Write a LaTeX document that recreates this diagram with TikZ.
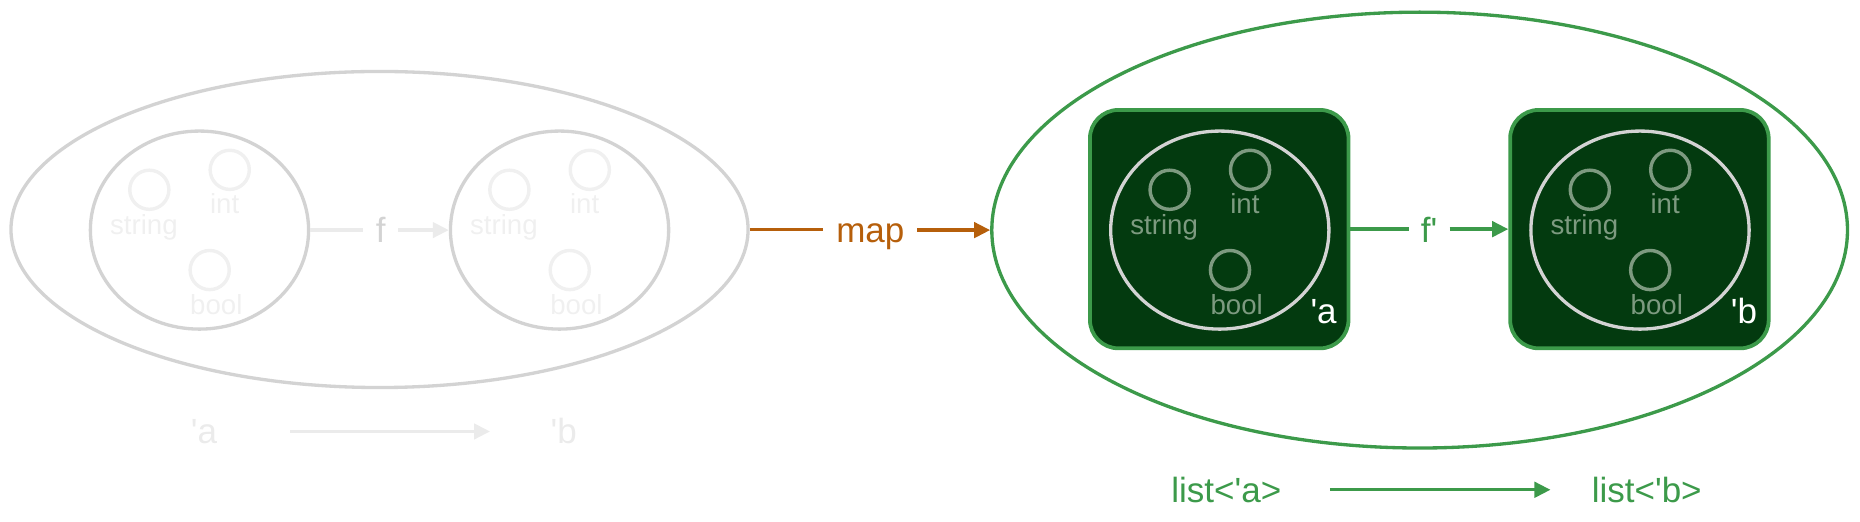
\documentclass[tikz,border=0pt]{standalone}
\usepackage{fontspec}
\newfontfamily\gvfont{Liberation Sans}
\usetikzlibrary{shapes.geometric,arrows.meta}
\definecolor{faint}{HTML}{F0F0F0}
\definecolor{pale}{HTML}{EBEBEB}
\definecolor{shade}{HTML}{D3D3D3}
\definecolor{mapcol}{HTML}{B65F0B}
\definecolor{leaf}{HTML}{3C9A4A}
\definecolor{forest}{HTML}{033A0F}
\definecolor{moss}{HTML}{7D9A80}
\newcommand{\fsmain}{\gvfont\fontsize{29.5}{30}\selectfont}
\newcommand{\fssmall}{\gvfont\fontsize{23.3}{24}\selectfont}
\newcommand{\typeballs}[4]{%
    \node[ball, draw = #4] (#1s) at (#2-42.3,#3-34) {};
    \node[ball, draw = #4] (#1i) at (#2+25.5,#3-50.8) {};
    \node[ball, draw = #4] (#1b) at (#2+8.6,#3+33.7) {};
    \node[tag, text = #4] (#1st) at (#2-46.9,#3+4) {string};
    \node[tag, text = #4] (#1it) at (#2+21.2,#3-13.6) {int};
    \node[tag, text = #4] (#1bt) at (#2+14.2,#3+70.8) {bool};
}
\begin{document}
\begin{tikzpicture}[x = 1pt, y = -1pt, line width = 2.8pt,
        every node/.style = {inner sep = 0pt, font = \fsmain},
        pod/.style = {ellipse, draw = shade, minimum width = 184pt, minimum height = 167pt},
        ball/.style = {circle, minimum size = 33pt, line width = 2.9pt},
        tag/.style = {anchor = base, font = \fssmall},
        typebox/.style = {rounded corners = 24pt, draw = leaf, fill = forest, line width = 3.2pt, minimum width = 218pt, minimum height = 201pt},
        conn/.style = {-{Triangle[length = 13.5pt, width = 13pt]}}]
        \useasboundingbox (0,0) rectangle (1568.3,439.3);
        \node[ellipse, draw = shade, minimum width = 621.5pt, minimum height = 266.5pt] (outl) at (320,193.5) {};
        \node[pod] (la) at (168.2,194) {};
        \node[pod] (lb) at (471.8,194) {};
        \typeballs{la}{168.2}{194}{faint}
        \typeballs{lb}{471.8}{194}{faint}
        \node[anchor = base, text = shade, inner xsep = 9.5pt] (f) at (321,204.5) {f};
        \begin{scope}[style = pale]
            \draw (la.east) -- (la.east -| f.west);
            \draw[conn] (f.east |- lb.west) -- (lb.west);
        \end{scope}
        \node[ellipse, draw = leaf, minimum width = 721.5pt, minimum height = 367.5pt] (outr) at (1197,194) {};
        \node[anchor = base, text = mapcol, inner xsep = 9.5pt] (map) at (733.8,204.5) {map};
        \begin{scope}[style = mapcol]
            \draw (outl.east) -- (outl.east -| map.west);
            \draw[conn] (map.east |- outr.west) -- (outr.west);
        \end{scope}
        \node[typebox] (ba) at (1028,193.2) {};
        \node[typebox] (bb) at (1382.3,193.2) {};
        \node[pod] (ra) at (1028.5,194) {};
        \node[pod] (rb) at (1382.8,194) {};
        \typeballs{ra}{1028.5}{194}{moss}
        \typeballs{rb}{1382.8}{194}{moss}
        \node[anchor = base, text = white] (qa) at (1116,272.6) {'a};
        \node[anchor = base, text = white] (qb) at (1470.5,272.6) {'b};
        \node[anchor = base, text = leaf, inner xsep = 9pt] (fp) at (1205,204.5) {f'};
        \begin{scope}[style = leaf]
            \draw (ba.east) -- (ba.east -| fp.west);
            \draw[conn] (fp.east |- bb.west) -- (bb.west);
        \end{scope}
        \node[anchor = base, text = pale] (ta) at (172,373.8) {'a};
        \node[anchor = base, text = pale] (tb) at (475.3,373.8) {'b};
        \draw[pale, conn, shorten <= 60pt, shorten >= 49.7pt] (ta.east) -- (ta.east -| tb.west);
        \node[anchor = base, text = leaf] (lsa) at (1034,423.5) {list<'a>};
        \node[anchor = base, text = leaf] (lsb) at (1388.5,423.5) {list<'b>};
        \draw[leaf, conn, shorten <= 39.7pt, shorten >= 33.5pt] (lsa.east) -- (lsa.east -| lsb.west);
    \end{tikzpicture}
\end{document}
